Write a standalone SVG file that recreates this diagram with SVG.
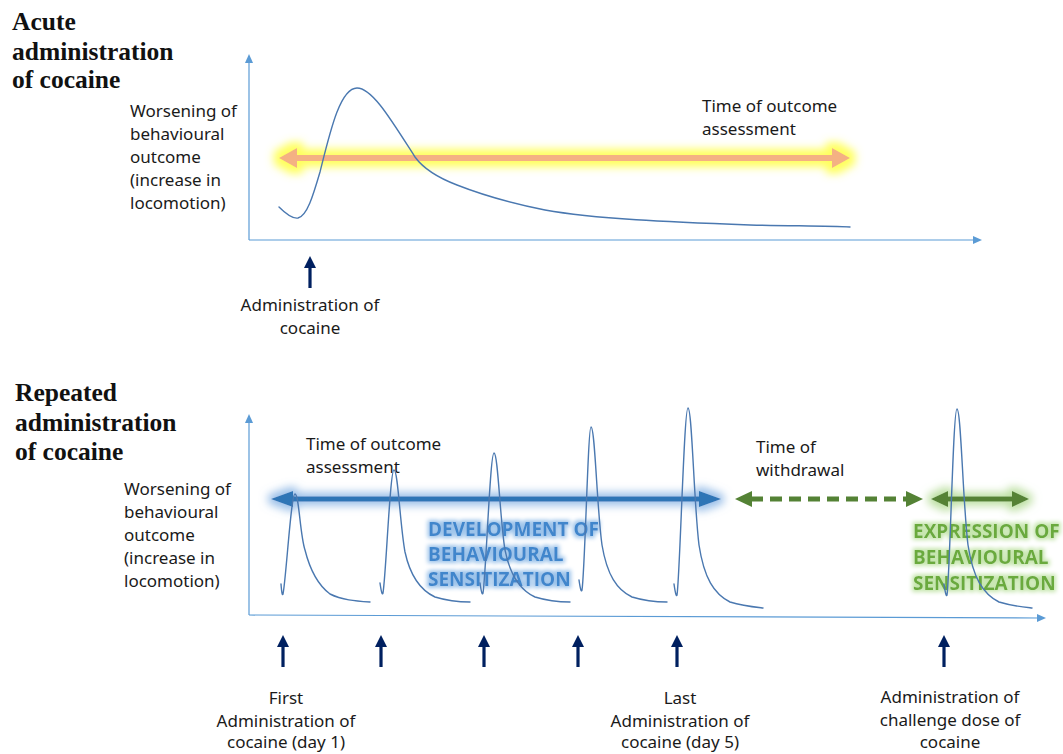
<svg xmlns="http://www.w3.org/2000/svg" width="1063" height="754" viewBox="0 0 1063 754">
<defs>
<style>
.title{font-family:"Liberation Serif","Times New Roman",serif;font-weight:bold;font-size:25.5px;fill:#111}
.lbl{font-family:"Noto Sans","Open Sans",sans-serif;font-size:17px;fill:#1a1a1a}
.mid{text-anchor:middle}
.big{font-family:"Open Sans","Noto Sans",sans-serif;font-weight:bold;font-size:19px}
.axis{stroke:#5b9bd5;stroke-width:1.2;fill:none}
.curve{stroke:#4a78b0;stroke-width:1.4;fill:none;stroke-linejoin:round;stroke-linecap:round}
.up{stroke:#002060;stroke-width:3.2;fill:none}
</style>
<marker id="axh" markerUnits="userSpaceOnUse" markerWidth="9" markerHeight="8" refX="1" refY="4" orient="auto" overflow="visible"><path d="M0,0 L9,4 L0,8 z" fill="#5b9bd5"/></marker>
<marker id="uph" markerUnits="userSpaceOnUse" markerWidth="12" markerHeight="12" refX="1" refY="6" orient="auto" overflow="visible"><path d="M0,0 L12,6 L0,12 z" fill="#002060"/></marker>
<marker id="orh" markerUnits="userSpaceOnUse" markerWidth="18" markerHeight="20" refX="1" refY="10" orient="auto-start-reverse" overflow="visible"><path d="M0,0 L18,10 L0,20 z" fill="#f4b183"/></marker>
<marker id="blh" markerUnits="userSpaceOnUse" markerWidth="22" markerHeight="16" refX="1" refY="8" orient="auto-start-reverse" overflow="visible"><path d="M0,0 L22,8 L0,16 z" fill="#2e75b6"/></marker>
<marker id="grh" markerUnits="userSpaceOnUse" markerWidth="17" markerHeight="16" refX="1" refY="8" orient="auto-start-reverse" overflow="visible"><path d="M0,0 L17,8 L0,16 z" fill="#548235"/></marker>
<filter id="glowY" filterUnits="userSpaceOnUse" x="0" y="0" width="1063" height="754">
<feMorphology in="SourceAlpha" operator="dilate" radius="6" result="d"/>
<feGaussianBlur in="d" stdDeviation="4" result="b"/>
<feFlood flood-color="#ffff55" flood-opacity="0.95"/>
<feComposite in2="b" operator="in" result="g"/>
<feMerge><feMergeNode in="g"/><feMergeNode in="SourceGraphic"/></feMerge>
</filter>
<filter id="glowB" filterUnits="userSpaceOnUse" x="0" y="0" width="1063" height="754">
<feMorphology in="SourceAlpha" operator="dilate" radius="4" result="d"/>
<feGaussianBlur in="d" stdDeviation="4" result="b"/>
<feFlood flood-color="#8fb8e6" flood-opacity="0.9"/>
<feComposite in2="b" operator="in" result="g"/>
<feMerge><feMergeNode in="g"/><feMergeNode in="SourceGraphic"/></feMerge>
</filter>
<filter id="glowG" filterUnits="userSpaceOnUse" x="0" y="0" width="1063" height="754">
<feMorphology in="SourceAlpha" operator="dilate" radius="4" result="d"/>
<feGaussianBlur in="d" stdDeviation="4" result="b"/>
<feFlood flood-color="#b5dc98" flood-opacity="0.9"/>
<feComposite in2="b" operator="in" result="g"/>
<feMerge><feMergeNode in="g"/><feMergeNode in="SourceGraphic"/></feMerge>
</filter>
<filter id="tglowB" filterUnits="userSpaceOnUse" x="0" y="0" width="1063" height="754">
<feMorphology in="SourceAlpha" operator="dilate" radius="2" result="d"/>
<feGaussianBlur in="d" stdDeviation="2.2" result="b"/>
<feFlood flood-color="#9cc3ea"/>
<feComposite in2="b" operator="in" result="g"/>
<feMerge><feMergeNode in="g"/><feMergeNode in="SourceGraphic"/></feMerge>
</filter>
<filter id="tglowG" filterUnits="userSpaceOnUse" x="0" y="0" width="1063" height="754">
<feMorphology in="SourceAlpha" operator="dilate" radius="2" result="d"/>
<feGaussianBlur in="d" stdDeviation="2.2" result="b"/>
<feFlood flood-color="#c6e6ae"/>
<feComposite in2="b" operator="in" result="g"/>
<feMerge><feMergeNode in="g"/><feMergeNode in="SourceGraphic"/></feMerge>
</filter>
</defs>
<rect width="1063" height="754" fill="#ffffff"/>

<g id="titles">
<text class="title" x="12" y="30">Acute</text>
<text class="title" x="12" y="60">administration</text>
<text class="title" x="12" y="88">of cocaine</text>
<text class="title" x="15" y="401">Repeated</text>
<text class="title" x="15" y="431">administration</text>
<text class="title" x="15" y="460">of cocaine</text>
</g>

<g id="axes">
<path class="axis" d="M249,240 V62" marker-end="url(#axh)"/>
<path class="axis" d="M249,240 H974" marker-end="url(#axh)"/>
<path class="axis" d="M249,615 V422" marker-end="url(#axh)"/>
<path class="axis" d="M249,615 L1038,618" marker-end="url(#axh)"/>
</g>

<g id="connectors">
<g id="assess-acute" filter="url(#glowY)"><path d="M296,158 H833" stroke="#f4b183" stroke-width="6" marker-start="url(#orh)" marker-end="url(#orh)"/></g>
<g id="development" filter="url(#glowB)"><path d="M292,499 H700" stroke="#2e75b6" stroke-width="5" marker-start="url(#blh)" marker-end="url(#blh)"/></g>
<g id="withdrawal"><path d="M751,499 H907" stroke="#548235" stroke-width="5" stroke-dasharray="12 7" marker-start="url(#grh)" marker-end="url(#grh)"/></g>
<g id="expression" filter="url(#glowG)"><path d="M947,499 H1013" stroke="#548235" stroke-width="5" marker-start="url(#grh)" marker-end="url(#grh)"/></g>
<path class="up" d="M310,288 V267" marker-end="url(#uph)"/>
<path class="up" d="M283,667 V646" marker-end="url(#uph)"/>
<path class="up" d="M381,667 V646" marker-end="url(#uph)"/>
<path class="up" d="M484,667 V646" marker-end="url(#uph)"/>
<path class="up" d="M578,667 V646" marker-end="url(#uph)"/>
<path class="up" d="M677,667 V646" marker-end="url(#uph)"/>
<path class="up" d="M944,667 V646" marker-end="url(#uph)"/>
</g>

<g id="acute-labels">
<text class="lbl" x="130" y="117">Worsening of</text>
<text class="lbl" x="130" y="140">behavioural</text>
<text class="lbl" x="130" y="163">outcome</text>
<text class="lbl" x="130" y="186">(increase in</text>
<text class="lbl" x="130" y="209">locomotion)</text>
<text class="lbl" x="702" y="112">Time of outcome</text>
<text class="lbl" x="702" y="135">assessment</text>
<text class="lbl mid" x="310" y="311">Administration of</text>
<text class="lbl mid" x="310" y="334">cocaine</text>
</g>

<g id="repeated-labels">
<text class="lbl" x="124" y="495">Worsening of</text>
<text class="lbl" x="124" y="518">behavioural</text>
<text class="lbl" x="124" y="541">outcome</text>
<text class="lbl" x="124" y="564">(increase in</text>
<text class="lbl" x="124" y="587">locomotion)</text>
<text class="lbl" x="306" y="450">Time of outcome</text>
<text class="lbl" x="306" y="473">assessment</text>
<text class="lbl" x="756" y="453">Time of</text>
<text class="lbl" x="756" y="476">withdrawal</text>
<text class="lbl mid" x="286" y="704">First</text>
<text class="lbl mid" x="286" y="727">Administration of</text>
<text class="lbl mid" x="286" y="748">cocaine (day 1)</text>
<text class="lbl mid" x="680" y="704">Last</text>
<text class="lbl mid" x="680" y="727">Administration of</text>
<text class="lbl mid" x="680" y="748">cocaine (day 5)</text>
<text class="lbl mid" x="950" y="703">Administration of</text>
<text class="lbl mid" x="950" y="726">challenge dose of</text>
<text class="lbl mid" x="950" y="748">cocaine</text>
</g>

<g id="development-label" filter="url(#tglowB)" class="big" fill="#3f86cc">
<text x="428" y="536">DEVELOPMENT OF</text>
<text x="428" y="561">BEHAVIOURAL</text>
<text x="428" y="586">SENSITIZATION</text>
</g>
<g id="expression-label" filter="url(#tglowG)" class="big" fill="#6aaa3c">
<text x="913" y="538">EXPRESSION OF</text>
<text x="913" y="564">BEHAVIOURAL</text>
<text x="913" y="590">SENSITIZATION</text>
</g>

<g id="curves">
<path class="curve" d="M279,207 C286,214 292,219 298,218 C307,216 313,196 320,172 C330,132 340,88 357,88 C372,88 390,118 415,157 C423,168 436,177 457,185 C485,196 510,203 545,210 C595,219 670,222 750,225 C800,226 830,226 850,227"/>
<path class="curve" d="M281,584 Q282,597 283,594 C286,580 291,494 295,494 C299,494 300,535 305,550 C310,570 318,585 330,594 C342,600 355,601 370,602"/>
<path class="curve" d="M380,583 Q382,597 383,593 C386,575 390,470 394,470 C398,470 400,525 405,552 C410,575 420,590 435,597 C448,601 460,602 470,602"/>
<path class="curve" d="M480,583 Q482,597 483,593 C486,575 490,453 494,453 C498,453 500,520 505,550 C510,575 520,590 535,597 C548,601 560,602 570,602"/>
<path class="curve" d="M579,580 Q581,594 582,590 C585,570 588,427 591,427 C595,427 597,510 602,545 C607,575 617,590 632,597 C645,601 657,602 667,602"/>
<path class="curve" d="M674,584 Q676,598 677,595 C680,575 684,408 688,408 C692,408 694,505 699,545 C704,578 714,594 730,602 C743,606 754,607 763,608"/>
<path class="curve" d="M944,584 Q946,598 947,595 C950,575 953,409 957,409 C961,409 963,505 968,545 C973,578 983,594 999,602 C1012,606 1023,607 1032,608"/>
</g>
</svg>
